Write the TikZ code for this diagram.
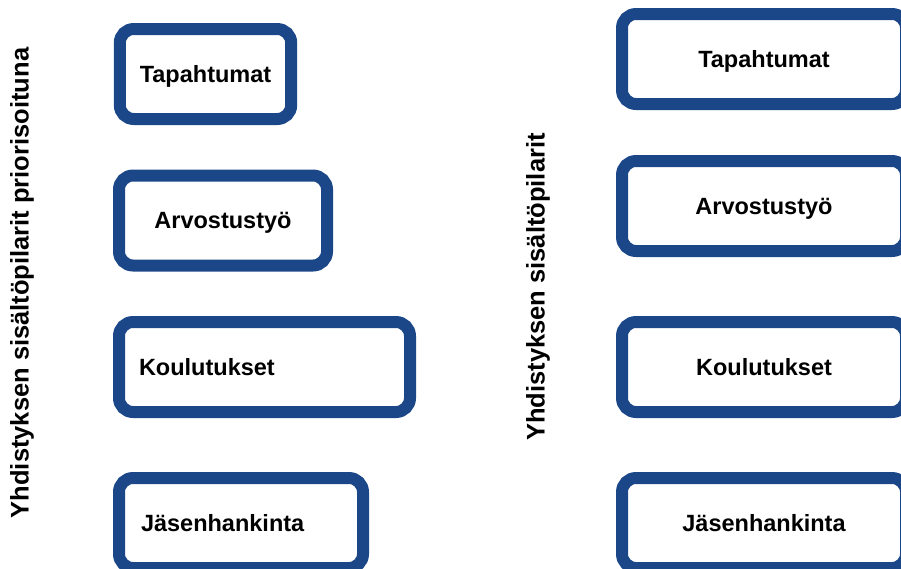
\documentclass[tikz,border=0pt]{standalone}
\usepackage{fontspec}
\setmainfont{Liberation Sans}
\definecolor{pillarblue}{RGB}{27,71,137}
\tikzset{
  pillar/.style={draw=pillarblue,line width=12pt,rounded corners=14pt,fill=white,
    minimum height=90pt,inner xsep=20pt,text depth=0pt,
    font=\bfseries\fontsize{23.5}{28}\selectfont},
  sidetitle/.style={rotate=90,font=\bfseries\fontsize{25.5}{30}\selectfont}
}
\begin{document}
\begin{tikzpicture}[x=1pt,y=-1pt]
\useasboundingbox (0,0) rectangle (901,568);

% vertical titles
\node[sidetitle] (titleL) at (22,283) {Yhdistyksen sisältöpilarit priorisoituna};
\node[sidetitle] (titleR) at (538,287) {Yhdistyksen sisältöpilarit};

% left column
\node[pillar,minimum width=171pt] (tapL) at (205.5,74) {Tapahtumat};
\node[pillar,minimum width=208pt] (arvL) at (223,220.5) {Arvostustyö};
\node[pillar,text width=251pt,align=left] (kouL) at (264.5,367) {Koulutukset};
\node[pillar,text width=200pt,align=left,inner xsep=22pt] (jasL) at (241,523) {Jäsenhankinta};

% right column
\node[pillar,minimum width=284pt] (tapR) at (764,59) {Tapahtumat};
\node[pillar,minimum width=284pt] (arvR) at (764,206) {Arvostustyö};
\node[pillar,minimum width=284pt] (kouR) at (764,367) {Koulutukset};
\node[pillar,minimum width=284pt] (jasR) at (764,523) {Jäsenhankinta};
\end{tikzpicture}
\end{document}
